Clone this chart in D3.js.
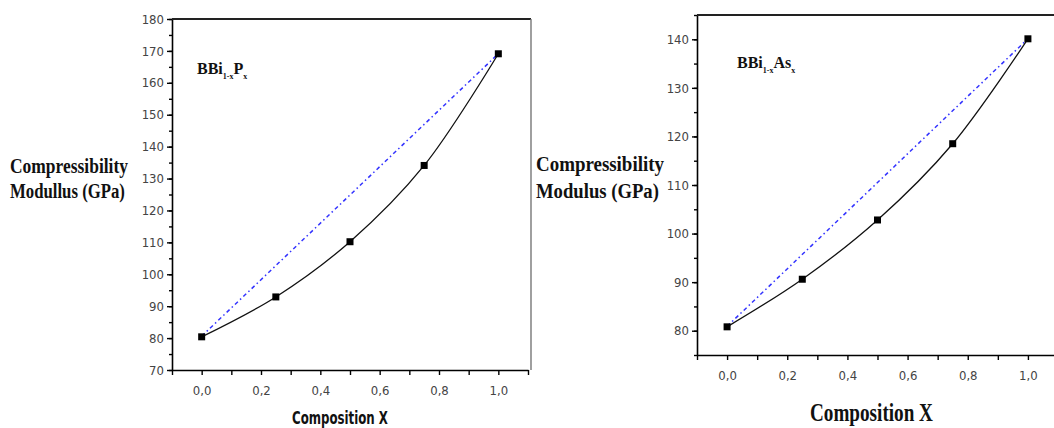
<!DOCTYPE html>
<html>
<head>
<meta charset="utf-8">
<script src="https://cdn.jsdelivr.net/npm/d3@7"></script>
<style>
    body { margin: 0; background: #fff; }
    .tick text { fill: #444; font-family: "DejaVu Sans Condensed", "DejaVu Sans", sans-serif; }
</style>
</head>
<body>
<div id="graph"></div>
<script>
// Composition x for both alloys
const compX = [0, 0.25, 0.5, 0.75, 1.0];

// Compressibility modulus (GPa)
const bbiP = [80.4, 92.9, 110.2, 134.1, 169.1];
const bbiAs = [80.8, 90.6, 102.8, 118.5, 140.1];

// Vegard (linear) line, end points only
const vegardX = [0, 1];
const vegardP = [80.6, 169.1];
const vegardAs = [80.9, 140.1];

const xTicks = [-0.1, 0, 0.1, 0.2, 0.3, 0.4, 0.5, 0.6, 0.7, 0.8, 0.9, 1.0, 1.1];
const xLabels = [0, 0.2, 0.4, 0.6, 0.8, 1.0];
const yTicksP = [70, 80, 90, 100, 110, 120, 130, 140, 150, 160, 170, 180];
const yTicksAs = [80, 90, 100, 110, 120, 130, 140];

let svg = d3.select("#graph")
    .append("svg")
    .attr("width", 1054)
    .attr("height", 428);

svg.append("rect").attr("width", 1054).attr("height", 428).attr("fill", "#fff");

// squeeze a text horizontally so it fills a given width (the scan is narrow)
function fitText(g, x, y, w, family, size, str) {
    let t = g.append("text")
        .attr("x", 0).attr("y", 0)
        .style("font-family", family)
        .style("font-weight", "bold")
        .style("font-size", size + "px")
        .attr("fill", "#111")
        .text(str);
    let natural = t.node().getComputedTextLength();
    t.attr("transform", `translate(${x}, ${y}) scale(${w / natural}, 1)`);
    return t;
}

const serif = "'Liberation Serif', 'Times New Roman', serif";

function drawPanel(cfg) {
    let x = d3.scaleLinear().domain([-0.1, 1.1]).range([cfg.left, cfg.right]);
    let y = d3.scaleLinear().domain(cfg.yDomain).range([cfg.bottom, cfg.top]);
    let g = svg.append("g");

    // minor y ticks (every 5)
    let minorY = d3.range(cfg.yDomain[0], cfg.yDomain[1] + 0.1, 5);
    g.append("g")
        .attr("transform", `translate(${cfg.left}, 0)`)
        .call(d3.axisLeft(y).tickValues(minorY).tickSize(3).tickFormat(""))
        .call(a => a.select(".domain").remove())
        .selectAll("line").attr("stroke", "#000").attr("stroke-width", 1.4);

    // y axis
    let yAxis = g.append("g")
        .attr("transform", `translate(${cfg.left}, 0)`)
        .call(d3.axisLeft(y).tickValues(cfg.yTicks).tickSize(5).tickPadding(3).tickSizeOuter(0));
    yAxis.select(".domain").attr("stroke", "#000").attr("stroke-width", 1.6);
    yAxis.selectAll("line").attr("stroke", "#000").attr("stroke-width", 1.4);
    yAxis.selectAll("text").style("font-size", cfg.tickFont + "px");

    // x axis
    let xAxis = g.append("g")
        .attr("transform", `translate(0, ${cfg.bottom})`)
        .call(d3.axisBottom(x).tickValues(xTicks).tickSize(5).tickPadding(11).tickSizeOuter(0)
            .tickFormat(d => xLabels.some(v => Math.abs(v - d) < 1e-9) ? d3.format(".1f")(d).replace(".", ",") : ""));
    xAxis.select(".domain").attr("stroke", "#000").attr("stroke-width", 1.6);
    xAxis.selectAll("line").attr("stroke", "#000").attr("stroke-width", 1.4);
    xAxis.selectAll("text").style("font-size", cfg.tickFont + "px");

    // frame top / right
    g.append("line")
        .attr("x1", cfg.left).attr("x2", cfg.frameRight)
        .attr("y1", cfg.top).attr("y2", cfg.top)
        .attr("stroke", "#222").attr("stroke-width", 1.8);
    if (cfg.frameRight < 1054) {
        g.append("line")
            .attr("x1", cfg.frameRight).attr("x2", cfg.frameRight)
            .attr("y1", cfg.top).attr("y2", cfg.bottom)
            .attr("stroke", "#777").attr("stroke-width", 1.4);
    }

    // Vegard line: blue dash-dot
    let vLine = d3.line().x((d, i) => x(vegardX[i])).y(d => y(d));
    g.append("path")
        .datum(cfg.vegard)
        .attr("d", vLine)
        .attr("fill", "none")
        .attr("stroke", "#3333ff")
        .attr("stroke-width", 1.5)
        .attr("stroke-dasharray", "4,3,1.5,3");

    // data line
    let line = d3.line()
        .x((d, i) => x(compX[i]))
        .y(d => y(d))
        .curve(d3.curveCatmullRom.alpha(0.5));
    g.append("path")
        .datum(cfg.values)
        .attr("d", line)
        .attr("fill", "none")
        .attr("stroke", "#111")
        .attr("stroke-width", 1.3);

    // square markers
    g.selectAll("rect.pt")
        .data(cfg.values)
        .enter()
        .append("rect")
        .attr("class", "pt")
        .attr("x", (d, i) => x(compX[i]) - 3.5)
        .attr("y", d => y(d) - 3.5)
        .attr("width", 7)
        .attr("height", 7)
        .attr("fill", "#000");

    // compound label
    let lab = g.append("text")
        .attr("x", cfg.labX).attr("y", cfg.labY)
        .style("font-family", serif)
        .style("font-weight", "bold")
        .style("font-size", "16px")
        .attr("fill", "#111");
    lab.append("tspan").text("BBi");
    lab.append("tspan").attr("dy", 5).style("font-size", "8px").text("1-x");
    lab.append("tspan").attr("dy", -5).text(cfg.elem);
    lab.append("tspan").attr("dy", 5).style("font-size", "8px").text("x");

    // y label (two lines)
    cfg.yLabel.forEach((t, i) => {
        fitText(g, cfg.yLabX, cfg.yLabY[i], cfg.yLabW[i], serif, cfg.yLabFont, t);
    });

    // x label
    fitText(g, cfg.xLabX, cfg.xLabY, cfg.xLabW, cfg.xLabFamily, cfg.xLabFont, "Composition X");
}

drawPanel({
    left: 172, right: 528, top: 19, bottom: 370, frameRight: 531,
    yDomain: [70, 180], yTicks: yTicksP, tickFont: 13,
    values: bbiP, vegard: vegardP, elem: "P",
    labX: 197, labY: 74,
    yLabel: ["Compressibility", "Modullus (GPa)"],
    yLabX: 10, yLabY: [173, 198], yLabW: [118, 115], yLabFont: 20,
    xLabX: 292, xLabY: 424, xLabW: 96, xLabFont: 17,
    xLabFamily: "'DejaVu Sans Condensed', 'DejaVu Sans', sans-serif"
});

drawPanel({
    left: 697, right: 1058, top: 15, bottom: 355, frameRight: 1054,
    yDomain: [75, 145], yTicks: yTicksAs, tickFont: 13,
    values: bbiAs, vegard: vegardAs, elem: "As",
    labX: 737, labY: 68,
    yLabel: ["Compressibility", "Modulus (GPa)"],
    yLabX: 536, yLabY: [171, 198], yLabW: [128, 123], yLabFont: 21,
    xLabX: 810, xLabY: 421, xLabW: 123, xLabFont: 25,
    xLabFamily: serif
});
</script>
</body>
</html>
